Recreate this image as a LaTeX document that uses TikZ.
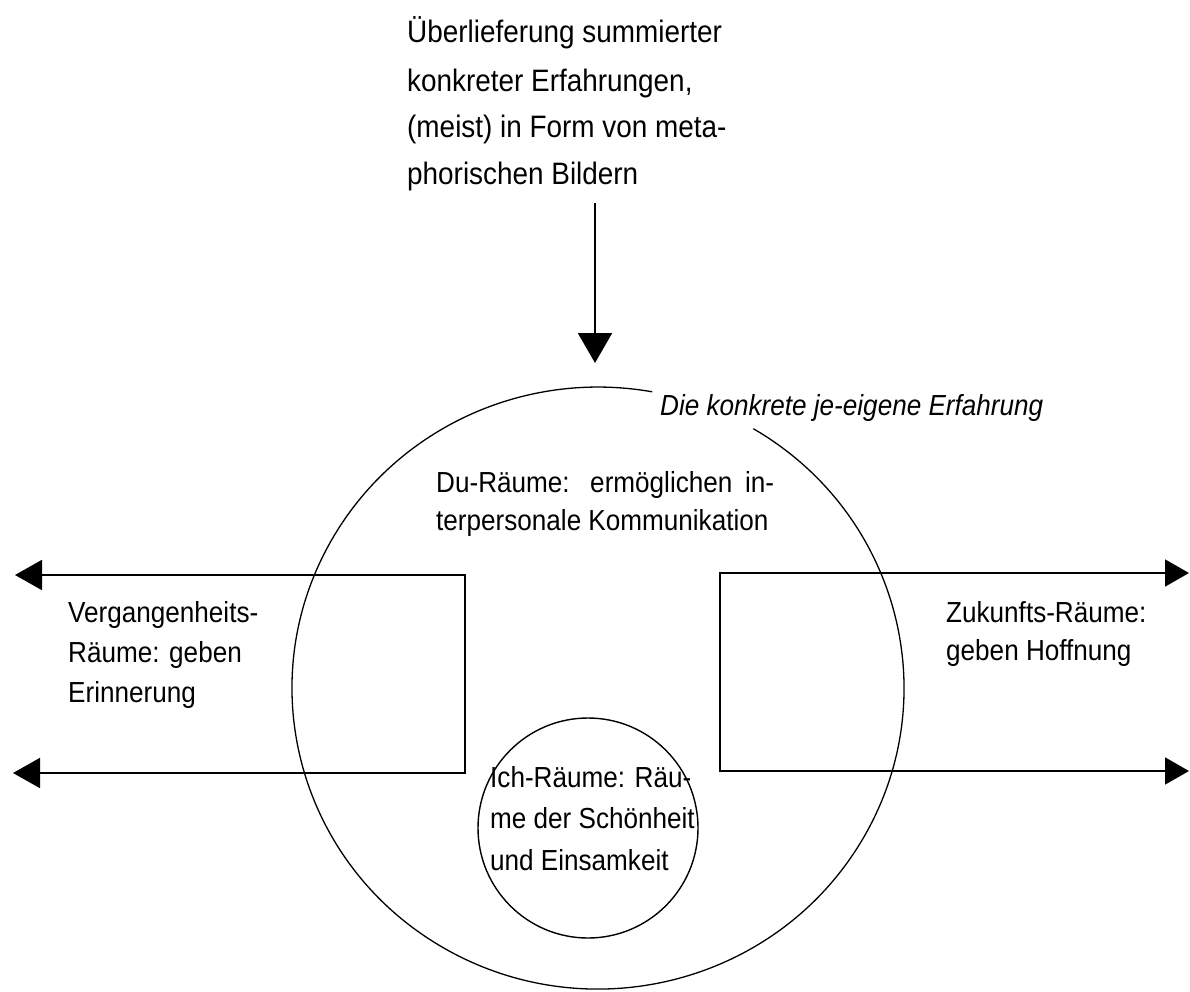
\documentclass[tikz,border=0pt]{standalone}
\usepackage{fontspec}
\setmainfont[FakeStretch=0.9]{Liberation Sans}
\usetikzlibrary{arrows.meta}
\begin{document}
\begin{tikzpicture}[x=1pt,y=-1pt,
  txt/.style={inner sep=0pt, anchor=base west, font=\fontsize{29}{35}\selectfont},
  toptxt/.style={txt, font=\fontsize{31}{37}\selectfont},
  ittxt/.style={txt, font=\fontsize{29}{35}\selectfont\itshape},
  circ/.style={line width=1.3pt},
  br/.style={line width=1.8pt},
  ltip/.style={Triangle[length=27pt,width=30pt]},
  rtip/.style={Triangle[length=24pt,width=27pt]}
]
\fill[white] (0,0) rectangle (1190,992);
\useasboundingbox (0,0) rectangle (1190,992);

% top text
\node[toptxt] (t1) at (407,43) {Überlieferung summierter};
\node[toptxt] (t2) at (407,92) {konkreter Erfahrungen,};
\node[toptxt] (t3) at (407,138) {(meist) in Form von meta-};
\node[toptxt] (t4) at (407,185) {phorischen Bildern};

% top arrow
\coordinate (src) at (595,203);
\coordinate (tip) at (595,363);
\draw[line width=2pt, -{Triangle[length=30pt,width=34pt]}] (src) -- (tip);

% big circle with gap for label
\draw[circ] (753.3,428.7) arc[start angle=-59.5, end angle=280.2, x radius=306, y radius=301];
\node[ittxt] (erf) at (660,415) {Die konkrete je-eigene Erfahrung};

% Du-Raeume
\node[txt] (d1) at (436,492) {\makebox[338pt][s]{Du-Räume: ermöglichen in-}};
\node[txt] (d2) at (436,530) {terpersonale Kommunikation};

% left bracket
\coordinate (Lt) at (15,575);
\coordinate (Lc1) at (465,575);
\coordinate (Lc2) at (465,773);
\coordinate (Lb) at (13,773);
\draw[br, {Triangle[length=27pt,width=30pt]}-{Triangle[length=27pt,width=30pt]}] (Lt) -- (Lc1) -- (Lc2) -- (Lb);
\node[txt] (v1) at (68,622) {Vergangenheits-};
\node[txt] (v2) at (68,662) {Räume: geben};
\node[txt] (v3) at (68,702) {Erinnerung};

% right bracket
\coordinate (Rt) at (1189,573);
\coordinate (Rc1) at (720,573);
\coordinate (Rc2) at (720,771);
\coordinate (Rb) at (1189,771);
\draw[br, {Triangle[length=24pt,width=27pt]}-{Triangle[length=24pt,width=27pt]}] (Rt) -- (Rc1) -- (Rc2) -- (Rb);
\node[txt] (z1) at (946,622) {Zukunfts-Räume:};
\node[txt] (z2) at (946,660) {geben Hoffnung};

% small circle
\node[draw, circle, line width=1.4pt, minimum size=220pt, inner sep=0pt] (ich) at (588,828) {};
\node[txt] (i1) at (490,787) {Ich-Räume: Räu-};
\node[txt] (i2) at (490,828) {me der Schönheit};
\node[txt] (i3) at (490,870) {und Einsamkeit};
\end{tikzpicture}
\end{document}
